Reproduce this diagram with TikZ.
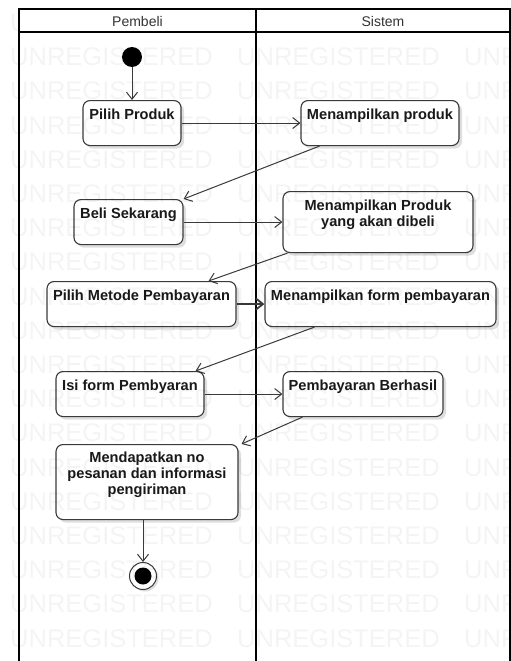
\documentclass[tikz,border=0pt]{standalone}
\usepackage{fontspec}
\setmainfont{Liberation Sans}
\usetikzlibrary{arrows.meta,shadows}
\definecolor{edge}{HTML}{3A3A3A}

\begin{document}
\begin{tikzpicture}[x=1pt,y=-1pt,
    act/.style={draw=edge, line width=1.1pt, rounded corners=7pt, fill=white, text=black!90,
      drop shadow={shadow xshift=3pt, shadow yshift=-3pt, fill=black!13, opacity=1},
      font=\fontsize{14.6}{16}\selectfont\bfseries, align=center, inner sep=0pt,
      text height=19pt, text depth=26pt, anchor=north},
    flow/.style={draw=edge, line width=1pt, -{Straight Barb[length=7pt,width=11pt]}},
    lanehead/.style={font=\fontsize{14}{16}\selectfont, text=black!80},
    wm/.style={font=\fontsize{25.5}{26}\selectfont, inner sep=0pt, anchor=west, text=black, opacity=0.045}]
    \useasboundingbox (0,0) rectangle (511,661);

    \draw[line width=2pt] (19,661) |- (509.5,9) -- (509.5,661);
    \draw[line width=1.6pt] (19,32) -- (509.5,32) (256,9) -- (256,661);
    \node[lanehead] (pembeli) at (137.5,21) {Pembeli};
    \node[lanehead] (sistem) at (383,21) {Sistem};

    \node[circle, fill=black, minimum size=20pt, inner sep=0pt] (mulai) at (132,57) {};
    \node[act, minimum width=98pt] (pilih) at (132,100) {Pilih Produk};
    \node[act, minimum width=158pt] (tampil) at (380,100) {Menampilkan produk};
    \node[act, minimum width=109pt] (beli) at (128.5,199) {Beli Sekarang};
    \node[act, minimum width=190pt, text height=35pt] (tampilbeli) at (378,191) {Menampilkan Produk\\yang akan dibeli};
    \node[act, minimum width=189pt] (metode) at (141.5,281) {Pilih Metode Pembayaran};
    \node[act, minimum width=231pt] (form) at (380.5,281) {Menampilkan form pembayaran};
    \node[act, minimum width=148pt] (isi) at (130,371) {Isi form Pembyaran};
    \node[act, minimum width=160pt] (berhasil) at (363,371) {Pembayaran Berhasil};
    \node[act, minimum width=182pt, text height=50pt, text depth=25pt] (dapat) at (147,444) {Mendapatkan no\\pesanan dan informasi\\pengiriman};
    \node[circle, draw=edge, line width=1pt, fill=white, minimum size=27pt, inner sep=0pt,
      drop shadow={shadow xshift=2pt, shadow yshift=-2pt, fill=black!13, opacity=1}] (selesai) at (143,576) {};
    \node[circle, fill=black, minimum size=17pt, inner sep=0pt] (selesai-isi) at (selesai) {};

    \draw[flow] (mulai) -- (pilih);
    \draw[flow] (pilih.east) -- (pilih.east -| tampil.west);
    \draw[flow] ([xshift=19pt]tampil.south west) -- (beli.north east);
    \draw[flow] (beli.east) -- (beli.east -| tampilbeli.west);
    \draw[flow] ([xshift=5pt]tampilbeli.south west) -- ([xshift=-28pt]metode.north east);
    \draw[flow, line width=1.8pt] (metode.east) -- (form.west);
    \draw[flow] ([xshift=50pt]form.south west) -- ([xshift=-9pt]isi.north east);
    \draw[flow] (isi.east) -- (isi.east -| berhasil.west);
    \draw[flow] ([xshift=20pt]berhasil.south west) -- ([xshift=3pt]dapat.north east);
    \draw[flow] (dapat.south -| selesai) -- (selesai);

    \begin{scope}
      \clip (0,0) rectangle (19,32);
      \foreach \c in {10,237,464}
        \node[wm] (wm-top-\c) at (\c,22.8) {UNREGISTERED};
    \end{scope}
    \foreach \r in {0,...,17}
      \foreach \c in {10,237,464}
        \node[wm] (wm-\r-\c) at (\c,57+34.2*\r) {UNREGISTERED};
\end{tikzpicture}
\end{document}
